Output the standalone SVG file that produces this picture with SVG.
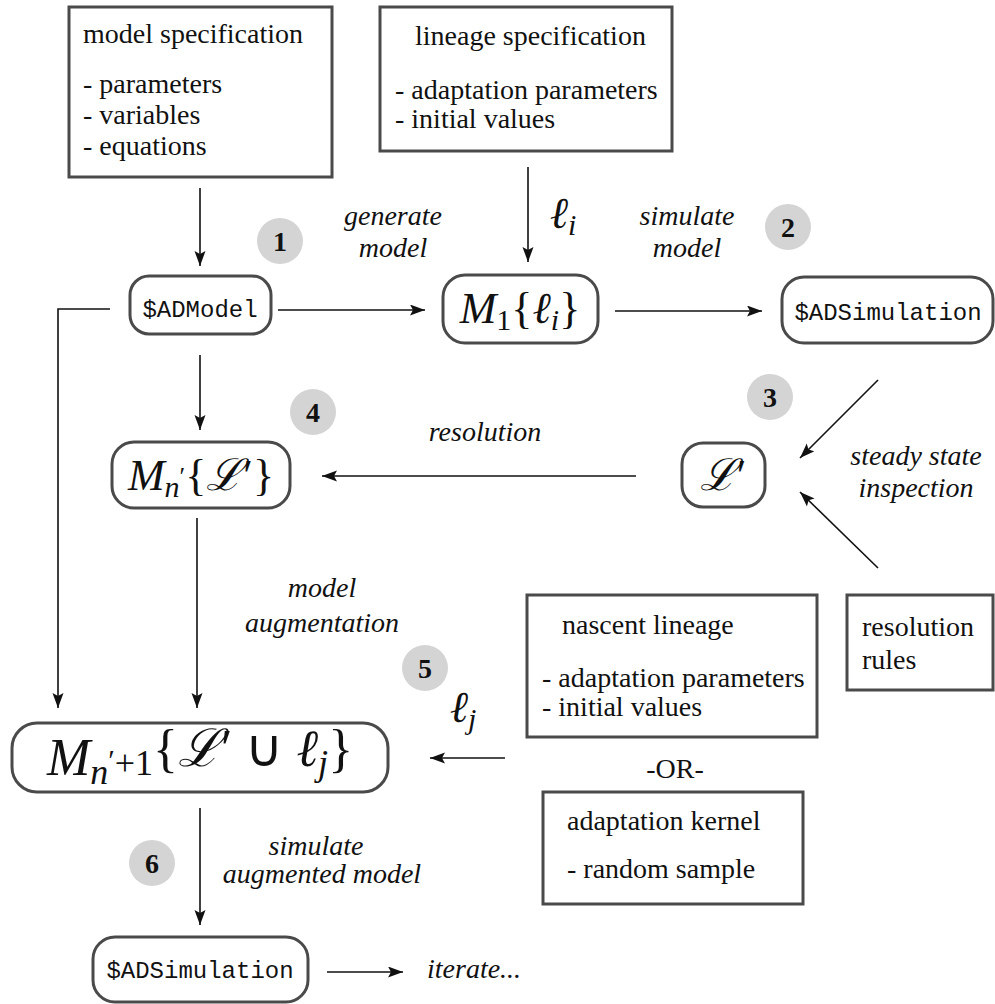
<svg xmlns="http://www.w3.org/2000/svg" width="995" height="1004" viewBox="0 0 995 1004">
  <defs>
    <marker id="arrow" markerUnits="userSpaceOnUse" markerWidth="16" markerHeight="12" refX="15" refY="5.5" orient="auto">
      <path d="M0,0 L15,5.5 L0,11 L3,5.5 z" fill="#111"/>
    </marker>
  </defs>

  <!-- input boxes -->
  <g fill="#111" font-size="28">
    <g id="model-spec">
      <rect x="69" y="7" width="263" height="170" fill="#fff" stroke="#4a4a4a" stroke-width="3"/>
      <text style="font-family:'Liberation Serif',serif !important" x="83" y="43">model specification</text>
      <text style="font-family:'Liberation Serif',serif !important" x="83" y="93">- parameters</text>
      <text style="font-family:'Liberation Serif',serif !important" x="83" y="124">- variables</text>
      <text style="font-family:'Liberation Serif',serif !important" x="83" y="155">- equations</text>
    </g>
    <g id="lineage-spec">
      <rect x="380" y="7" width="292" height="144" fill="#fff" stroke="#4a4a4a" stroke-width="3"/>
      <text style="font-family:'Liberation Serif',serif !important" x="415" y="45">lineage specification</text>
      <text style="font-family:'Liberation Serif',serif !important" x="395" y="99">- adaptation parameters</text>
      <text style="font-family:'Liberation Serif',serif !important" x="395" y="128">- initial values</text>
    </g>
    <g id="nascent-lineage">
      <rect x="527" y="595" width="290" height="142" fill="#fff" stroke="#4a4a4a" stroke-width="3"/>
      <text style="font-family:'Liberation Serif',serif !important" x="562" y="634">nascent lineage</text>
      <text style="font-family:'Liberation Serif',serif !important" x="542" y="687">- adaptation parameters</text>
      <text style="font-family:'Liberation Serif',serif !important" x="542" y="716">- initial values</text>
    </g>
    <g id="resolution-rules">
      <rect x="847" y="595" width="146" height="95" fill="#fff" stroke="#4a4a4a" stroke-width="3"/>
      <text style="font-family:'Liberation Serif',serif !important" x="862" y="636">resolution</text>
      <text style="font-family:'Liberation Serif',serif !important" x="862" y="669">rules</text>
    </g>
    <g id="or-label">
      <text style="font-family:'Liberation Serif',serif !important" x="675" y="778" text-anchor="middle">-OR-</text>
    </g>
    <g id="adaptation-kernel">
      <rect x="543" y="792" width="260" height="112" fill="#fff" stroke="#4a4a4a" stroke-width="3"/>
      <text style="font-family:'Liberation Serif',serif !important" x="567" y="830">adaptation kernel</text>
      <text style="font-family:'Liberation Serif',serif !important" x="567" y="878">- random sample</text>
    </g>
  </g>

  <!-- model / simulation nodes -->
  <g fill="#111" text-anchor="middle">
    <g id="ad-model">
      <rect x="130" y="276" width="141" height="58" rx="19" fill="#fff" stroke="#4a4a4a" stroke-width="3"/>
      <text style="font-family:'Liberation Mono',monospace !important" font-size="24" x="200" y="317">$ADModel</text>
    </g>
    <g id="ad-simulation">
      <rect x="782" y="277" width="211" height="66" rx="22" fill="#fff" stroke="#4a4a4a" stroke-width="3"/>
      <text style="font-family:'Liberation Mono',monospace !important" font-size="24" x="888" y="320">$ADSimulation</text>
    </g>
    <g id="ad-simulation-2">
      <rect x="93" y="937" width="215" height="65" rx="22" fill="#fff" stroke="#4a4a4a" stroke-width="3"/>
      <text style="font-family:'Liberation Mono',monospace !important" font-size="24" x="200" y="978">$ADSimulation</text>
    </g>
    <g id="m1">
      <rect x="443" y="275" width="155" height="68" rx="22" fill="#fff" stroke="#4a4a4a" stroke-width="3"/>
      <text style="font-family:'Liberation Serif',serif !important" font-size="44" x="520" y="323"><tspan font-style="italic">M</tspan><tspan font-size="30" dy="7">1</tspan><tspan dy="-7">{</tspan><tspan font-style="italic">ℓ</tspan><tspan font-style="italic" font-size="30" dy="7">i</tspan><tspan dy="-7">}</tspan></text>
    </g>
    <g id="l-prime">
      <rect x="682" y="443" width="83" height="64" rx="21" fill="#fff" stroke="#4a4a4a" stroke-width="3"/>
      <text style="font-family:'Liberation Serif',serif !important" font-size="44" x="723" y="490"><tspan font-style="italic">ℒ</tspan><tspan>′</tspan></text>
    </g>
    <g id="m-n-prime">
      <rect x="112" y="442" width="178" height="66" rx="22" fill="#fff" stroke="#4a4a4a" stroke-width="3"/>
      <text style="font-family:'Liberation Serif',serif !important" font-size="44" x="201" y="490"><tspan font-style="italic">M</tspan><tspan font-style="italic" font-size="30" dy="7">n</tspan><tspan font-size="26" dy="-12">′</tspan><tspan dy="5">{</tspan><tspan font-style="italic">ℒ</tspan><tspan>′</tspan><tspan>}</tspan></text>
    </g>
    <g id="m-augmented">
      <rect x="12" y="723" width="376" height="69" rx="25" fill="#fff" stroke="#4a4a4a" stroke-width="3"/>
      <text style="font-family:'Liberation Serif',serif !important" font-size="52" x="200" y="775"><tspan font-style="italic">M</tspan><tspan font-style="italic" font-size="36" dy="9">n</tspan><tspan font-size="30" dy="-14">′</tspan><tspan font-size="36" dy="5">+1</tspan><tspan dy="-9">{</tspan><tspan font-style="italic">ℒ</tspan><tspan>′</tspan><tspan> ∪ </tspan><tspan font-style="italic">ℓ</tspan><tspan font-style="italic" font-size="36" dy="9">j</tspan><tspan dy="-9">}</tspan></text>
    </g>
  </g>

  <!-- step markers -->
  <g fill="#111" text-anchor="middle" font-size="28" font-weight="bold">
    <g id="step-1"><circle cx="280" cy="241" r="23" fill="#d4d4d4"/><text style="font-family:'Liberation Serif',serif !important" x="280" y="251">1</text></g>
    <g id="step-2"><circle cx="788" cy="227" r="23" fill="#d4d4d4"/><text style="font-family:'Liberation Serif',serif !important" x="788" y="237">2</text></g>
    <g id="step-3"><circle cx="770" cy="397" r="23" fill="#d4d4d4"/><text style="font-family:'Liberation Serif',serif !important" x="770" y="407">3</text></g>
    <g id="step-4"><circle cx="313" cy="412" r="23" fill="#d4d4d4"/><text style="font-family:'Liberation Serif',serif !important" x="313" y="422">4</text></g>
    <g id="step-5"><circle cx="425" cy="668" r="23" fill="#d4d4d4"/><text style="font-family:'Liberation Serif',serif !important" x="425" y="678">5</text></g>
    <g id="step-6"><circle cx="152" cy="863" r="23" fill="#d4d4d4"/><text style="font-family:'Liberation Serif',serif !important" x="152" y="873">6</text></g>
  </g>

  <!-- edge labels -->
  <g id="labels" fill="#111" text-anchor="middle" font-size="28" font-style="italic">
    <text style="font-family:'Liberation Serif',serif !important" x="393" y="225">generate</text>
    <text style="font-family:'Liberation Serif',serif !important" x="393" y="257">model</text>
    <text style="font-family:'Liberation Serif',serif !important" x="687" y="225">simulate</text>
    <text style="font-family:'Liberation Serif',serif !important" x="687" y="257">model</text>
    <text style="font-family:'Liberation Serif',serif !important" font-size="44" x="563" y="228">ℓ<tspan font-size="30" dy="7">i</tspan></text>
    <text style="font-family:'Liberation Serif',serif !important" x="485" y="441">resolution</text>
    <text style="font-family:'Liberation Serif',serif !important" x="916" y="465">steady state</text>
    <text style="font-family:'Liberation Serif',serif !important" x="916" y="497">inspection</text>
    <text style="font-family:'Liberation Serif',serif !important" x="322" y="597">model</text>
    <text style="font-family:'Liberation Serif',serif !important" x="322" y="632">augmentation</text>
    <text style="font-family:'Liberation Serif',serif !important" font-size="44" x="463" y="722">ℓ<tspan font-size="30" dy="7">j</tspan></text>
    <text style="font-family:'Liberation Serif',serif !important" x="316" y="855">simulate</text>
    <text style="font-family:'Liberation Serif',serif !important" x="322" y="883">augmented model</text>
    <text style="font-family:'Liberation Serif',serif !important" x="427" y="978" text-anchor="start">iterate...</text>
  </g>

  <!-- connectors -->
  <g id="connectors" fill="none" stroke="#111" stroke-width="1.6" marker-end="url(#arrow)">
    <path d="M200,188 V266"/>
    <path d="M528,167 V262"/>
    <path d="M278,310 H425"/>
    <path d="M615,311 H762"/>
    <path d="M878,380 L800,458"/>
    <path d="M878,568 L800,492"/>
    <path d="M636,476 H322"/>
    <path d="M200,355 V430"/>
    <path d="M110,309 H58 V708"/>
    <path d="M197,518 V708"/>
    <path d="M505,758 H430"/>
    <path d="M200,808 V925"/>
    <path d="M327,972 H403"/>
  </g>
</svg>
